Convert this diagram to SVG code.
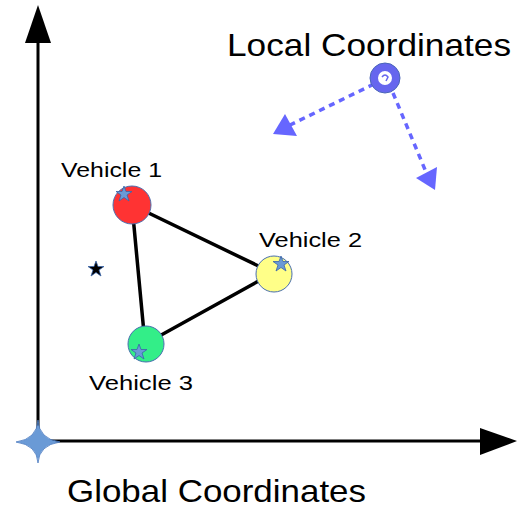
<svg xmlns="http://www.w3.org/2000/svg" width="518" height="508" viewBox="0 0 518 508">
<style>
text{font-family:"Liberation Sans",Arial,sans-serif;fill:#000}
.big{font-size:32px}
.lbl{font-size:21px}
.axis{stroke:#000;stroke-width:3;fill:none}
.dash{stroke:#6666ff;stroke-width:3.5;stroke-dasharray:6 5;fill:none}
.veh{stroke:#4a6fb0;stroke-width:1}
.star{fill:#6a9ad6;stroke:#3a64a8;stroke-width:0.8}
</style>
<rect width="518" height="508" fill="#fff"/>
<g id="axes">
<line class="axis" x1="38" y1="442" x2="38" y2="40"/>
<polygon points="38,5 25,43 51,43" fill="#000"/>
<line class="axis" x1="38" y1="441" x2="482" y2="441"/>
<polygon points="517,441 480,428 480,455" fill="#000"/>
</g>
<g id="origin">
<path d="M38,420 Q39,439 60,442 Q39,445 38,463 Q37,445 16,442 Q37,439 38,420 Z" fill="#6a9ad6" stroke="#4a7ac0" stroke-width="0.8"/>
</g>
<g id="connectors">
<polygon points="132,205 273,273 145,344" fill="none" stroke="#000" stroke-width="3.5" stroke-linejoin="miter"/>
<line class="dash" x1="374" y1="84" x2="288" y2="126"/>
<polygon points="273,134 285,114 297,136" fill="#6666ff"/>
<line class="dash" x1="393" y1="93" x2="426" y2="172"/>
<polygon points="435,190 416,178 437,167" fill="#6666ff"/>
</g>
<g id="local-origin">
<circle cx="385" cy="78" r="11" fill="#fff" stroke="#6666ee" stroke-width="8"/>
<circle cx="385" cy="78" r="15" fill="none" stroke="#4a66b8" stroke-width="1"/>
<path d="M382,77 Q385,73 388,77 L386,81" fill="none" stroke="#6666ee" stroke-width="1.5"/>
</g>
<g id="vehicle1">
<circle class="veh" cx="132" cy="205" r="19" fill="#ff3333"/>
<polygon class="star" points="124,186 126,191.5 132,191.5 127,195 129,201 124,197.5 119,201 121,195 116,191.5 122,191.5"/>
<text class="lbl" x="61" y="177" textLength="101" lengthAdjust="spacingAndGlyphs">Vehicle 1</text>
</g>
<g id="vehicle2">
<circle class="veh" cx="274" cy="274" r="18" fill="#ffff88"/>
<polygon class="star" points="281,256 283,261.5 289,261.5 284,265 286,271 281,267.5 276,271 278,265 273,261.5 279,261.5"/>
<text class="lbl" x="259" y="247" textLength="103" lengthAdjust="spacingAndGlyphs">Vehicle 2</text>
</g>
<g id="vehicle3">
<circle class="veh" cx="146" cy="344" r="18" fill="#33ee88"/>
<polygon class="star" points="139,344 141,349.5 147,349.5 142,353 144,359 139,355.5 134,359 136,353 131,349.5 137,349.5"/>
<text class="lbl" x="89" y="390" textLength="104" lengthAdjust="spacingAndGlyphs">Vehicle 3</text>
</g>
<g id="point">
<polygon points="96,261 98,266.5 104,266.5 99,270 101,276 96,272.5 91,276 93,270 88,266.5 94,266.5" fill="#000" stroke="#3a64a8" stroke-width="0.8"/>
</g>
<g id="titles">
<text class="big" x="227" y="56" textLength="284" lengthAdjust="spacingAndGlyphs">Local Coordinates</text>
<text class="big" x="67" y="502" textLength="299" lengthAdjust="spacingAndGlyphs">Global Coordinates</text>
</g>
</svg>
